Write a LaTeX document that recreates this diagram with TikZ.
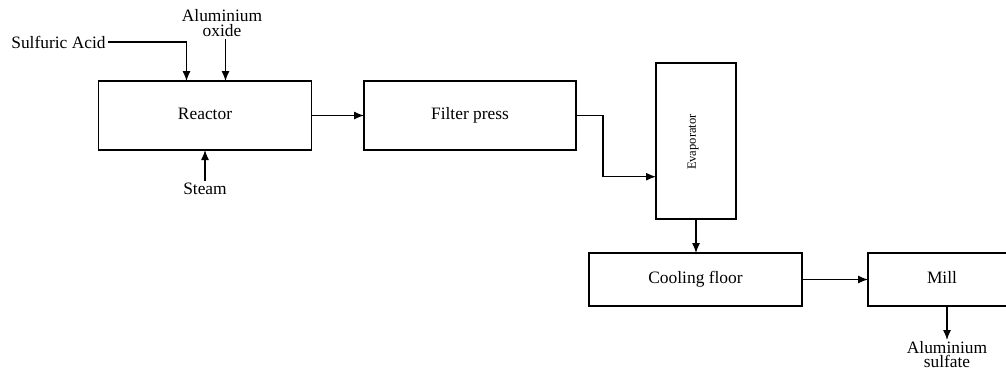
\documentclass[tikz,border=0pt]{standalone}
\usepackage{fontspec}
\setmainfont{Liberation Serif}
\usetikzlibrary{arrows.meta,calc}
\begin{document}
\begin{tikzpicture}[x=0.5pt,y=-0.5pt,
  box/.style={draw,line width=0.6pt,inner sep=0pt,outer sep=0pt,text height=5.6pt,text depth=1.6pt,font=\fontsize{8.7}{10}\selectfont},
  lbl/.style={inner sep=1pt,font=\fontsize{8.7}{7.5}\selectfont,align=center},
  arr/.style={line width=0.6pt,-{Latex[length=5pt,width=4pt]}}]
\useasboundingbox (0,0) rectangle (1006,372);
\clip (0,0) rectangle (1006,372);
\node[box,minimum width=106.5pt,minimum height=34.5pt] (reactor) at (205,115.5) {Reactor};
\node[box,minimum width=106pt,minimum height=34.5pt] (filter) at (470,115.5) {Filter press};
\node[box,minimum width=40pt,minimum height=78pt] (evap) at (696,141) {};
\node[rotate=90,inner sep=0pt,font=\fontsize{6.3}{7}\selectfont] (evaptext) at (693,142) {Evaporator};
\node[box,minimum width=106.5pt,minimum height=26.5pt] (cool) at (695.5,279.5) {Cooling floor};
\node[box,minimum width=74pt,minimum height=26.5pt] (mill) at (942,279.5) {Mill};
\node[lbl,anchor=east] (sa) at (108,42) {Sulfuric Acid};
\node[lbl,anchor=south] (ao) at (222,39) {Aluminium\\oxide};
\node[lbl,anchor=north] (st) at (205,181) {Steam};
\node[lbl,anchor=north,inner sep=0pt,font=\fontsize{8.7}{6}\selectfont] (as) at (947,341) {Aluminium\\sulfate};
\coordinate (sin) at ($(reactor.north west)+(88,0)$);
\coordinate (ain) at ($(reactor.north west)+(127,0)$);
\coordinate (tout) at ($(mill.south)+(5,0)$);
\draw[arr] (sa.east) -| (sin);
\draw[arr] (ain |- ao.south) -- (ain);
\draw[arr] (st.north) -- (reactor.south);
\draw[arr] (reactor.east) -- (filter.west);
\draw[arr] (filter.east) -- ++(27,0) |- ($(evap.west)+(0,35.7)$);
\draw[arr] (evap.south) -- (evap.south |- cool.north);
\draw[arr] (cool.east) -- (mill.west);
\draw[arr] (tout) -- ++(0,34);
\end{tikzpicture}
\end{document}
